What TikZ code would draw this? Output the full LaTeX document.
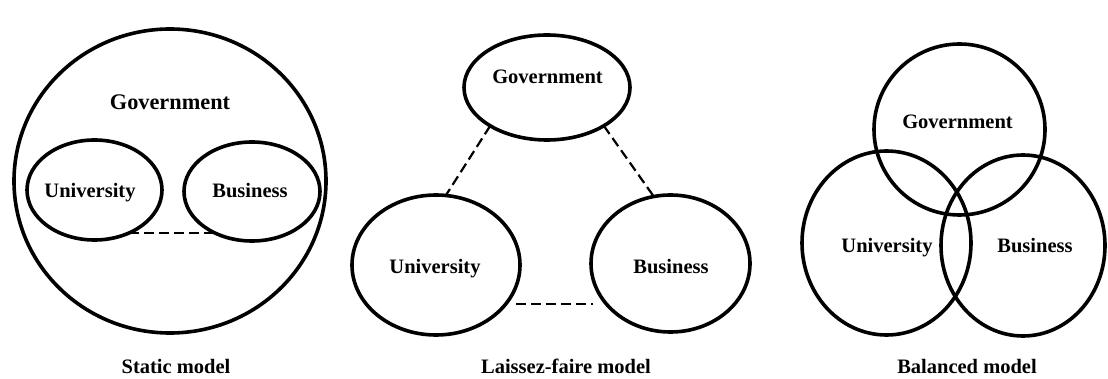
\documentclass[tikz,border=0pt]{standalone}
\usepackage{fontspec}
\setmainfont{Liberation Serif}
\usetikzlibrary{shapes.geometric}
\begin{document}
\begin{tikzpicture}[x=1pt,y=-1pt,
  ring/.style={draw, ellipse, line width=3.6pt, inner sep=0pt, outer sep=0pt},
  lbl/.style={font=\fontsize{20.5}{24}\selectfont\bfseries, inner sep=0pt, anchor=base},
  biglbl/.style={lbl, font=\fontsize{22.3}{26}\selectfont\bfseries},
  link/.style={line width=2.2pt, dash pattern=on 10pt off 5pt}]
\useasboundingbox (0,0) rectangle (1108,379);
% Static model
\node[ring, minimum width=312pt, minimum height=304pt] (sg) at (170,181) {};
\node[ring, minimum width=135pt, minimum height=100pt] (su) at (94.5,190) {};
\node[ring, minimum width=136pt, minimum height=99pt] (sb) at (252,191.5) {};
\draw[link] (su.-51) -- (su.-51 -| sb.-132);
\node[biglbl] (sgt) at (170,110) {Government};
\node[lbl] (sut) at (90,198) {University};
\node[lbl] (sbt) at (250,198) {Business};
\node[lbl] (st) at (176,373) {Static model};
% Laissez-faire model
\node[ring, minimum width=166pt, minimum height=105pt] (lg) at (547,87.5) {};
\node[ring, minimum width=168pt, minimum height=140pt] (lu) at (436,265) {};
\node[ring, minimum width=159pt, minimum height=137pt] (lb) at (670.5,263.5) {};
\draw[link] (lg.-146) -- (lu.82);
\draw[link] (lg.-34) -- (lb.104.5);
\coordinate (le) at (lu.-29.4 -| lb.-147);
\draw[link, shorten <=10pt, shorten >=14pt] (lu.-29.4) -- (le);
\node[lbl] (lgt) at (547.5,84) {Government};
\node[lbl] (lut) at (435,274) {University};
\node[lbl] (lbt) at (671,273) {Business};
\node[lbl] (lt) at (566,373) {Laissez-faire model};
% Balanced model
\node[ring, minimum width=171pt, minimum height=171pt] (bg) at (959.5,129.5) {};
\node[ring, minimum width=169pt, minimum height=184pt] (bu) at (886.5,243) {};
\node[ring, minimum width=164pt, minimum height=181pt] (bb) at (1023,245.5) {};
\node[lbl] (bgt) at (957.5,129) {Government};
\node[lbl] (but) at (887,253) {University};
\node[lbl] (bbt) at (1035,253) {Business};
\node[lbl] (bt) at (967,373) {Balanced model};
\end{tikzpicture}
\end{document}
